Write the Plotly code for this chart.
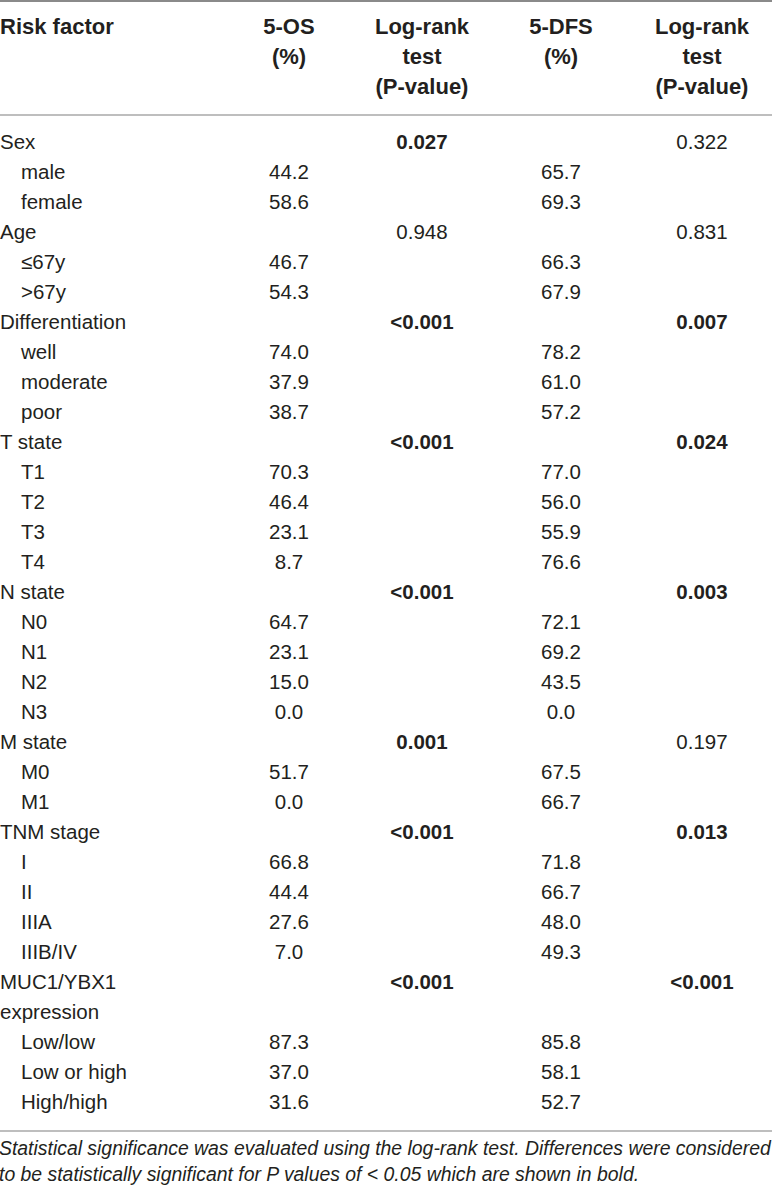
import plotly.graph_objects as go

# ---------------- data ----------------
risk_factor = ["Sex", "male", "female", "Age", "≤67y", ">67y",
               "Differentiation", "well", "moderate", "poor",
               "T state", "T1", "T2", "T3", "T4",
               "N state", "N0", "N1", "N2", "N3",
               "M state", "M0", "M1",
               "TNM stage", "I", "II", "IIIA", "IIIB/IV",
               "MUC1/YBX1", "expression", "Low/low", "Low or high", "High/high"]
is_subitem = [0, 1, 1, 0, 1, 1,
              0, 1, 1, 1,
              0, 1, 1, 1, 1,
              0, 1, 1, 1, 1,
              0, 1, 1,
              0, 1, 1, 1, 1,
              0, 0, 1, 1, 1]
os_5 = [None, 44.2, 58.6, None, 46.7, 54.3,
        None, 74.0, 37.9, 38.7,
        None, 70.3, 46.4, 23.1, 8.7,
        None, 64.7, 23.1, 15.0, 0.0,
        None, 51.7, 0.0,
        None, 66.8, 44.4, 27.6, 7.0,
        None, None, 87.3, 37.0, 31.6]
os_p = ["0.027", "", "", "0.948", "", "",
        "<0.001", "", "", "",
        "<0.001", "", "", "", "",
        "<0.001", "", "", "", "",
        "0.001", "", "",
        "<0.001", "", "", "", "",
        "<0.001", "", "", "", ""]
dfs_5 = [None, 65.7, 69.3, None, 66.3, 67.9,
         None, 78.2, 61.0, 57.2,
         None, 77.0, 56.0, 55.9, 76.6,
         None, 72.1, 69.2, 43.5, 0.0,
         None, 67.5, 66.7,
         None, 71.8, 66.7, 48.0, 49.3,
         None, None, 85.8, 58.1, 52.7]
dfs_p = ["0.322", "", "", "0.831", "", "",
         "0.007", "", "", "",
         "0.024", "", "", "", "",
         "0.003", "", "", "", "",
         "0.197", "", "",
         "0.013", "", "", "", "",
         "<0.001", "", "", "", ""]
headers = ["Risk factor", "5-OS<br>(%)", "Log-rank<br>test<br>(P-value)",
           "5-DFS<br>(%)", "Log-rank<br>test<br>(P-value)"]
footnote = ["Statistical significance was evaluated using the log-rank test. Differences were considered",
            "to be statistically significant for P values of < 0.05 which are shown in bold."]
alpha = 0.05

# ---------------- layout constants ----------------
W, H = 772, 1193
ROW0, ROWH = 144, 30          # pixel centre of first body row, row pitch
COLX = [289, 422, 561, 702]   # column centres (pixels)
LABEL_X, INDENT_X = 0, 21
FONT = "Liberation Sans, Arial, Helvetica, sans-serif"
TXT = "#231f20"
FS = 20.5
HFS = 22

def row_y(px):
    return (px - ROW0) / ROWH

def fmt_p(s):
    if not s:
        return ""
    v = float(s.lstrip("<"))
    return f"<b>{s}</b>" if v < alpha else s

def fmt_v(v):
    return "" if v is None else f"{v:.1f}"

rows = list(range(len(risk_factor)))
fig = go.Figure()

# risk factor labels
fig.add_trace(go.Scatter(
    x=[INDENT_X if s else LABEL_X for s in is_subitem], y=rows,
    mode="text", text=risk_factor, textposition="middle right",
    textfont=dict(family=FONT, size=FS, color=TXT), hoverinfo="skip"))

cols = [[fmt_v(v) for v in os_5], [fmt_p(p) for p in os_p],
        [fmt_v(v) for v in dfs_5], [fmt_p(p) for p in dfs_p]]
for cx, col in zip(COLX, cols):
    fig.add_trace(go.Scatter(
        x=[cx] * len(col), y=rows, mode="text", text=col,
        textposition="middle center",
        textfont=dict(family=FONT, size=FS, color=TXT), hoverinfo="skip"))

# header
fig.add_trace(go.Scatter(
    x=[LABEL_X], y=[row_y(28)], mode="text", text=["<b>" + headers[0] + "</b>"],
    textposition="middle right",
    textfont=dict(family=FONT, size=HFS, color=TXT), hoverinfo="skip"))
for cx, h in zip(COLX, headers[1:]):
    for k, line in enumerate(h.split("<br>")):
        fig.add_trace(go.Scatter(
            x=[cx], y=[row_y(28 + 30 * k)], mode="text", text=["<b>" + line + "</b>"],
            textposition="middle center",
            textfont=dict(family=FONT, size=HFS, color=TXT), hoverinfo="skip"))

# footnote
fig.add_trace(go.Scatter(
    x=[-1, -1], y=[row_y(1150), row_y(1176)], mode="text",
    text=["<i>" + t + "</i>" for t in footnote], textposition="middle right",
    textfont=dict(family=FONT, size=19.4, color=TXT), hoverinfo="skip"))

# rules
for py, col, wd in [(1, "#8a8a8a", 2), (115, "#a8a8a8", 1.3), (1131, "#a8a8a8", 1.3)]:
    fig.add_shape(type="line", xref="paper", x0=0, x1=1, yref="y",
                  y0=row_y(py), y1=row_y(py), line=dict(color=col, width=wd))

fig.update_layout(
    width=W, height=H, margin=dict(l=0, r=0, t=0, b=0),
    paper_bgcolor="white", plot_bgcolor="white", showlegend=False,
    xaxis=dict(range=[0, W], visible=False, fixedrange=True),
    yaxis=dict(range=[row_y(H), row_y(0)], visible=False, fixedrange=True),
)
fig.write_html("out.html", config={"displayModeBar": False},
               post_script="document.body.style.margin='0';document.body.style.padding='0';")
